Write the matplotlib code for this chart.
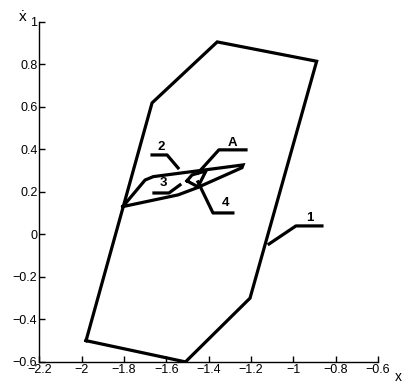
import matplotlib
matplotlib.use("Agg")
import matplotlib.pyplot as plt
from matplotlib.ticker import FixedLocator, FixedFormatter

plt.rcParams['font.family'] = ['Liberation Sans', 'DejaVu Sans']

# phase trajectory: outer limit cycle (1)
outer_x = [-1.98, -1.51, -1.205, -0.89, -1.36, -1.668, -1.98]
outer_y = [-0.50, -0.60, -0.30, 0.815, 0.906, 0.619, -0.50]

# inner cycle (2)
inner_x = [-1.806, -1.701, -1.662, -1.238, -1.243, -1.457, -1.545, -1.806]
inner_y = [0.131, 0.256, 0.272, 0.327, 0.314, 0.219, 0.186, 0.131]

# small cycle around point A (3, 4)
small_x = [-1.503, -1.479, -1.413, -1.451, -1.503]
small_y = [0.252, 0.280, 0.299, 0.224, 0.252]

# callout leaders and their labels
leaders = {
    "1": ([-1.115, -0.988, -0.865], [-0.045, 0.040, 0.040], (-0.922, 0.079)),
    "2": ([-1.668, -1.597, -1.545], [0.374, 0.374, 0.313], (-1.623, 0.413)),
    "3": ([-1.659, -1.588, -1.536], [0.195, 0.195, 0.233], (-1.612, 0.244)),
    "4": ([-1.451, -1.380, -1.286], [0.247, 0.101, 0.101], (-1.323, 0.148)),
    "A": ([-1.451, -1.352, -1.224], [0.289, 0.398, 0.398], (-1.286, 0.432)),
}

x_ticks = [-2.2, -2.0, -1.8, -1.6, -1.4, -1.2, -1.0, -0.8, -0.6]
x_labels = ["\u22122.2", "\u22122", "\u22121.8", "\u22121.6", "\u22121.4",
            "\u22121.2", "\u22121", "\u22120.8", "\u22120.6"]
y_ticks = [-0.6, -0.4, -0.2, 0.0, 0.2, 0.4, 0.6, 0.8, 1.0]
y_labels = ["\u22120.6", "\u22120.4", "\u22120.2", "0", "0.2", "0.4", "0.6", "0.8", "1"]

fig = plt.figure(figsize=(4.03, 3.85), dpi=100)
ax = fig.add_axes([0.098, 0.060, 0.840, 0.883])

lw = 2.3
ax.plot(outer_x, outer_y, color="black", lw=lw, solid_joinstyle="miter")
ax.plot(inner_x, inner_y, color="black", lw=lw, solid_joinstyle="miter")
ax.plot(small_x, small_y, color="black", lw=lw, solid_joinstyle="miter")

for name, (lx, ly, (tx, ty)) in leaders.items():
    ax.plot(lx, ly, color="black", lw=lw)
    ax.text(tx, ty, name, ha="center", va="center", fontsize=9.5,
            fontweight="bold")

ax.set_xlim(-2.2, -0.6)
ax.set_ylim(-0.6, 1.0)
ax.xaxis.set_major_locator(FixedLocator(x_ticks))
ax.xaxis.set_major_formatter(FixedFormatter(x_labels))
ax.yaxis.set_major_locator(FixedLocator(y_ticks))
ax.yaxis.set_major_formatter(FixedFormatter(y_labels))
ax.tick_params(direction="in", length=4, width=1, labelsize=9, pad=1.5)

ax.spines["top"].set_visible(False)
ax.spines["right"].set_visible(False)
ax.spines["left"].set_linewidth(1)
ax.spines["bottom"].set_linewidth(1)

# axis names placed at the ends of the axes
fig.text(22.5 / 403, 1 - 17 / 385, "\u1e8b", ha="center", va="center", fontsize=11)
fig.text(398 / 403, 1 - 377 / 385, "x", ha="center", va="center", fontsize=10)

fig.savefig("out.png", dpi=100)
